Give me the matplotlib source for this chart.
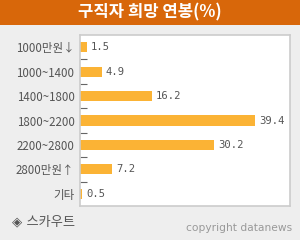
import matplotlib.pyplot as plt
from matplotlib.patches import Rectangle

# data
categories = ["1000만원↓", "1000~1400", "1400~1800", "1800~2200", "2200~2800", "2800만원↑", "기타"]
values = [1.5, 4.9, 16.2, 39.4, 30.2, 7.2, 0.5]

plt.rcParams['font.family'] = ['Noto Sans CJK KR', 'DejaVu Sans']

fig = plt.figure(figsize=(3.0, 2.4), dpi=100)
fig.patch.set_facecolor("#eeeeee")

# title bar
fig.patches.append(Rectangle((0, 1 - 25 / 240), 1, 25 / 240, transform=fig.transFigure,
                             facecolor="#d8670a", edgecolor="none", zorder=0))
fig.text(0.5, 1 - 12.5 / 240, "구직자 희망 연봉(%)", color="white", fontsize=12,
         fontweight="bold", ha="center", va="center")

# plot area: x 80..290, y 35..206 (pixels)
ax = fig.add_axes([80 / 300, 1 - 206 / 240, 210 / 300, 171 / 240])
ax.set_facecolor("white")
for s in ax.spines.values():
    s.set_color("#cccccc")
    s.set_linewidth(1.2)

y = list(range(len(categories)))
ax.barh(y, values, height=0.42, color="#fbb335", edgecolor="none")
ax.set_xlim(0, 47.3)
ax.set_ylim(len(categories) - 0.5, -0.5)

for yi, v in zip(y, values):
    ax.text(v + 0.9, yi, f"{v}", va="center", ha="left", fontsize=7.6,
            color="#555555", family="DejaVu Sans Mono")

ax.set_yticks(y)
ax.set_yticklabels(categories, fontsize=8.3, color="#555555")
ax.tick_params(axis="y", length=0, pad=4)
ax.set_xticks([])

# small separator ticks inside the axis between categories
ax.set_yticks([i + 0.5 for i in range(len(categories) - 1)], minor=True)
ax.tick_params(axis="y", which="minor", direction="in", length=5, width=0.8, color="#666666")

fig.text(12 / 300, 1 - 222 / 240, "◈ 스카우트", color="#555555", fontsize=9.5,
         ha="left", va="center", family=["DejaVu Sans", "Noto Sans CJK KR"])
fig.text(292 / 300, 1 - 228 / 240, "copyright datanews", color="#999999", fontsize=7.7,
         ha="right", va="center", family="DejaVu Sans")

fig.savefig("out.png", dpi=100, facecolor=fig.get_facecolor())
